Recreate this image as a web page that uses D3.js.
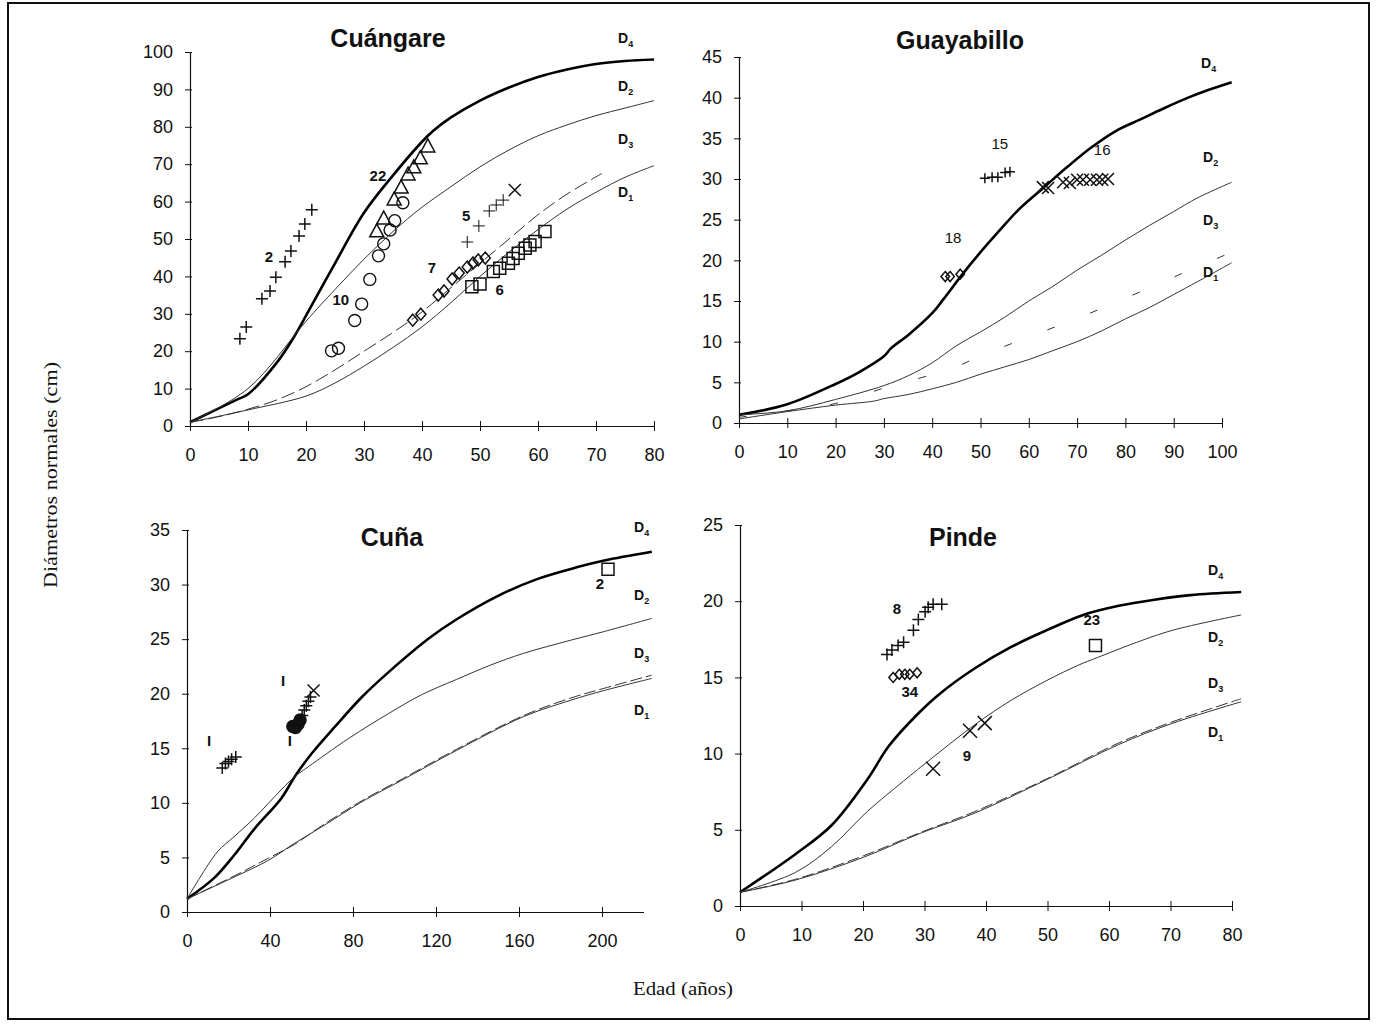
<!DOCTYPE html>
<html>
<head>
<meta charset="utf-8">
<script src="https://cdn.jsdelivr.net/npm/d3@7"></script>
<style>
  body { margin: 0; background: #fff; }
  svg { display: block; }
</style>
</head>
<body>
<svg id="chart" width="1377" height="1024"></svg>
<script>
// ---------- growth curves: [edad (años), diámetro (cm)] ----------
const cuangareD4 = [[0,1],[8,7],[10,8.5],[15,17],[18,24],[20,29.5],[25,43.5],[30,57],[35,67],[40,76],[42,79],[45,82.5],[50,87],[55,90.5],[60,93.3],[65,95.3],[70,96.8],[75,97.6],[80,98]];
const cuangareD2 = [[0,1],[10,10],[20,28],[25,36.5],[30,44.6],[35,52],[40,58.5],[45,64],[50,69.3],[55,73.8],[60,77.6],[65,80.5],[70,83],[75,85],[80,87]];
const cuangareD3 = [[0,1],[5,2.5],[10,4.5],[15,7],[20,10.5],[25,15],[30,20],[35,25],[40,30.5],[45,37],[50,43.5],[55,50],[60,56.5],[65,62],[71,67.5]];
const cuangareD1 = [[0,1],[10,4.3],[20,8],[25,11.5],[30,16],[35,21],[40,26.5],[45,33],[50,40],[55,46.5],[60,52.5],[65,58],[70,62.5],[75,66.5],[80,69.6]];

const guayabilloD4 = [[0,1],[10,2.3],[20,4.8],[25,6.3],[30,8.2],[31.5,9.2],[35,10.8],[40,13.5],[42.3,15.2],[46.4,18.4],[50,21],[54,23.7],[58,26.3],[63,28.9],[68,31.5],[73,33.9],[78,35.9],[83,37.3],[88,38.7],[93,40],[97,40.9],[102,41.9]];
const guayabilloD2 = [[0,1],[10,1.5],[20,2.9],[30,4.6],[35,5.8],[40,7.4],[45,9.5],[50,11.2],[55,13],[60,15],[65,16.8],[70,18.8],[75,20.6],[80,22.5],[85,24.3],[90,26],[95,27.7],[102,29.6]];
const guayabilloD3 = [[0,0.7],[10,1.5],[20,2.4],[30,4.3],[44,6.7],[51,8.5],[61,10.8],[71,13.1],[81,15.6],[91,18.2],[102,21]];
const guayabilloD1 = [[0,0.5],[10,1.4],[20,2.2],[28,2.7],[30,3],[35,3.5],[40,4.2],[45,5],[50,6],[55,6.9],[60,7.8],[65,8.9],[70,10],[75,11.3],[80,12.8],[85,14.2],[90,15.8],[95,17.4],[102,19.7]];

const cunaD4 = [[0,1.2],[13,3.1],[22.7,5.2],[32.4,7.6],[45.4,10.4],[51.9,12.4],[60,14.5],[71.4,17],[84.3,19.7],[97.3,22],[116.8,25.1],[129.8,26.8],[149.2,28.9],[168.7,30.5],[188.2,31.6],[201.1,32.2],[224,33]];
const cunaD2 = [[0,1.2],[14.6,5.5],[22.7,6.9],[32.4,8.6],[45.4,11.2],[51.9,12.4],[58.4,13.3],[77.9,15.9],[97.3,18.2],[113,19.9],[129.8,21.3],[146,22.6],[162.2,23.7],[184.9,24.9],[201.1,25.7],[224,26.9]];
const cunaD3 = [[0,1.2],[22.7,3.3],[38.9,4.9],[51.9,6.2],[64.9,7.9],[84.3,10.2],[103.8,12.2],[129.8,14.9],[162.2,18],[184.9,19.6],[201.1,20.5],[224,21.7]];
const cunaD1 = [[0,1.2],[22.7,3.2],[38.9,4.7],[51.9,6.3],[64.9,7.8],[84.3,10.1],[103.8,12.1],[129.8,14.8],[162.2,17.9],[184.9,19.4],[201.1,20.3],[224,21.4]];

const pindeD4 = [[0,0.9],[9,3.4],[14.9,5.3],[20.7,8.3],[24.2,10.5],[28.9,12.6],[32.4,13.9],[38.2,15.6],[44.1,17],[49.9,18.1],[55.8,19.1],[61.6,19.7],[67.4,20.1],[73.3,20.4],[81.5,20.6]];
const pindeD2 = [[0,0.9],[9,2.2],[14.9,3.9],[20.7,6.2],[26.6,8.2],[31.2,9.7],[38.2,11.9],[44.1,13.5],[49.9,14.8],[55,15.8],[58.1,16.3],[64.5,17.3],[70.4,18.1],[81.5,19.1]];
const pindeD3 = [[0,0.9],[9,1.75],[20.1,3.3],[29.5,4.85],[38.2,6.2],[49.9,8.35],[61.6,10.7],[70.4,12.1],[81.5,13.6]];
const pindeD1 = [[0,0.9],[9,1.7],[20.1,3.2],[29.5,4.8],[38.2,6.1],[49.9,8.3],[61.6,10.6],[70.4,12],[81.5,13.4]];

// ---------- measured trees: [edad, diámetro] ----------
const cuangareTree2  = [[8.6,23.3],[9.7,26.5],[12.4,34],[13.8,36.1],[14.8,39.8],[16.4,43.9],[17.4,46.8],[18.8,50.8],[19.8,54],[21,57.8]];
const cuangareTree10 = [[24.4,20.1],[25.6,20.8],[28.4,28.2],[29.6,32.6],[31,39.2],[32.5,45.5],[33.4,48.7],[34.5,52.4],[35.3,54.9],[36.7,59.7]];
const cuangareTree22 = [[32.2,51.9],[33.4,55.3],[35.2,60.4],[36.4,63.6],[37.6,67.1],[38.6,69],[39.7,71.4],[41,74.6]];
const cuangareTree5  = [[47.8,49.2],[49.8,53.5],[51.6,57.5],[52.8,59.1],[54,60.4]];
const cuangareTree5b = [[56,63.1]];
const cuangareTree7  = [[38.4,28.3],[39.8,29.9],[42.8,35],[43.8,36.1],[45.2,39.3],[46.4,40.9],[47.8,42.5],[48.8,43.6],[49.7,44.4],[50.9,44.9]];
const cuangareTree6  = [[48.6,37.2],[50,38],[52.3,41.3],[53.4,42.2],[54.9,43.5],[55.7,44.8],[56.6,46.2],[57.8,47.5],[58.6,48.4],[59.5,49.3],[61.2,52]];

const guayabilloTree15 = [[50.9,30.1],[52.4,30.2],[53.6,30.2],[55.1,30.8],[56.1,30.9]];
const guayabilloTree16 = [[62.9,29],[64,28.9],[67.1,29.6],[68.5,29.5],[70,29.9],[71.2,29.9],[72.7,29.9],[74.1,29.9],[75.2,29.9],[76.4,30]];
const guayabilloTree18 = [[42.7,18],[43.7,18],[45.8,18.3]];

const cunaTree1a = [[17,13.2],[18.5,13.6],[20,13.8],[21.5,14],[23.5,14.2]];
const cunaTree1b = [[51,17],[52.3,16.9],[53.5,17.2],[54.5,17.6]];
const cunaTree1c = [[55.5,18],[56.5,18.5],[57.5,18.9],[58.5,19.3],[59.5,19.7]];
const cunaTree1d = [[61,20.3]];
const cunaTree2  = [[202.9,31.4]];

const pindeTree8  = [[23.9,16.5],[24.7,16.8],[25.7,17.1],[26.6,17.3],[28.2,18.1],[29,18.8],[30.1,19.3],[30.6,19.6],[31.4,19.8],[32.8,19.8]];
const pindeTree34 = [[24.9,15],[25.9,15.2],[26.8,15.2],[27.6,15.2],[28.8,15.3]];
const pindeTree9  = [[31.4,9],[37.4,11.5],[39.8,12]];
const pindeTree23 = [[57.8,17.1]];

// ---------- tick labels ----------
const cuangareAgeTicks = [0,10,20,30,40,50,60,70,80];
const cuangareDiamTicks = [0,10,20,30,40,50,60,70,80,90,100];
const guayabilloAgeTicks = [0,10,20,30,40,50,60,70,80,90,100];
const guayabilloDiamTicks = [0,5,10,15,20,25,30,35,40,45];
const cunaAgeTicks = [0,40,80,120,160,200];
const cunaDiamTicks = [0,5,10,15,20,25,30,35];
const pindeAgeTicks = [0,10,20,30,40,50,60,70,80];
const pindeDiamTicks = [0,5,10,15,20,25];

// ---------- panel layout ----------
const panels = [
  {
    title: "Cuángare", titlePos: [388, 47],
    xDomain: [0, 80], xRange: [190, 654], xTicks: cuangareAgeTicks,
    yDomain: [0, 100], yRange: [426, 52], yTicks: cuangareDiamTicks,
    curves: [["D4", cuangareD4], ["D2", cuangareD2], ["D3", cuangareD3], ["D1", cuangareD1]],
    dash: "14,5",
    trees: [
      { data: cuangareTree2, mark: "plus", size: 6 },
      { data: cuangareTree10, mark: "circle", size: 6 },
      { data: cuangareTree22, mark: "triangle", size: 7 },
      { data: cuangareTree5, mark: "plus", size: 6, width: 1 },
      { data: cuangareTree5b, mark: "cross", size: 6 },
      { data: cuangareTree7, mark: "diamond", size: 6 },
      { data: cuangareTree6, mark: "square", size: 6 }
    ],
    notes: [["2",13.6,45],["10",26,33.5],["22",32.4,66.5],["5",47.6,56],["7",41.7,42],["6",53.4,36.2]],
    noteWeight: "bold",
    dLabels: [["4",618,43],["2",618,91],["3",618,144],["1",618,197]]
  },
  {
    title: "Guayabillo", titlePos: [960, 49],
    xDomain: [0, 100], xRange: [739, 1222], xTicks: guayabilloAgeTicks,
    yDomain: [0, 45], yRange: [423, 57], yTicks: guayabilloDiamTicks,
    curves: [["D4", guayabilloD4], ["D2", guayabilloD2], ["D3", guayabilloD3], ["D1", guayabilloD1]],
    dash: "8,38",
    trees: [
      { data: guayabilloTree15, mark: "plus", size: 5 },
      { data: guayabilloTree16, mark: "cross", size: 6 },
      { data: guayabilloTree18, mark: "diamond", size: 5 }
    ],
    notes: [["15",54,34.2],["16",75.2,33.4],["18",44.3,22.6]],
    noteWeight: "normal",
    dLabels: [["4",1201,68],["2",1203,162],["3",1203,225],["1",1203,277]]
  },
  {
    title: "Cuña", titlePos: [392, 546],
    xDomain: [0, 220], xRange: [187, 643.5], xTicks: cunaAgeTicks,
    yDomain: [0, 35], yRange: [912, 530], yTicks: cunaDiamTicks,
    curves: [["D4", cunaD4], ["D2", cunaD2], ["D1", cunaD1], ["D3", cunaD3]],
    dash: "12,4",
    trees: [
      { data: cunaTree1a, mark: "plus", size: 6 },
      { data: cunaTree1b, mark: "dot", size: 6 },
      { data: cunaTree1c, mark: "plus", size: 6 },
      { data: cunaTree1d, mark: "cross", size: 6 },
      { data: cunaTree2, mark: "square", size: 6 }
    ],
    notes: [["I",10.6,15.6],["I",46.3,21.1],["I",49.6,15.6],["2",199,30]],
    noteWeight: "bold",
    dLabels: [["4",634,532],["2",634,600],["3",634,658],["1",634,715]]
  },
  {
    title: "Pinde", titlePos: [963, 546],
    xDomain: [0, 80], xRange: [740, 1232], xTicks: pindeAgeTicks,
    yDomain: [0, 25], yRange: [906, 525], yTicks: pindeDiamTicks,
    curves: [["D4", pindeD4], ["D2", pindeD2], ["D1", pindeD1], ["D3", pindeD3]],
    dash: "12,4",
    trees: [
      { data: pindeTree8, mark: "plus", size: 6 },
      { data: pindeTree34, mark: "diamond", size: 5 },
      { data: pindeTree9, mark: "cross", size: 7 },
      { data: pindeTree23, mark: "square", size: 6 }
    ],
    notes: [["8",25.5,19.4],["34",27.6,14],["9",36.9,9.8],["23",57.2,18.7]],
    noteWeight: "bold",
    dLabels: [["4",1208,575],["2",1208,642],["3",1208,688],["1",1208,737]]
  }
];

const svg = d3.select("#chart");
const INK = "#111";

// outer frame
svg.append("rect")
  .attr("x", 8).attr("y", 3).attr("width", 1361).attr("height", 1016)
  .attr("fill", "none").attr("stroke", INK).attr("stroke-width", 2);

const markPath = {
  plus: s => `M${-s},0H${s}M0,${-s}V${s}`,
  cross: s => `M${-s},${-s}L${s},${s}M${-s},${s}L${s},${-s}`,
  triangle: s => `M0,${-s * 1.15}L${s},${s * 0.7}L${-s},${s * 0.7}Z`,
  diamond: s => `M0,${-s}L${s * 0.85},0L0,${s}L${-s * 0.85},0Z`,
  square: s => `M${-s},${-s}H${s}V${s}H${-s}Z`
};

panels.forEach(p => {
  const g = svg.append("g");
  const x = d3.scaleLinear().domain(p.xDomain).range(p.xRange);
  const y = d3.scaleLinear().domain(p.yDomain).range(p.yRange);
  const y0 = y(0), x0 = x(0);

  // x axis
  const xAxis = g.append("g")
    .attr("transform", `translate(0,${y0})`)
    .call(d3.axisBottom(x).tickValues(p.xTicks).tickSize(5).tickSizeOuter(0).tickPadding(17));
  xAxis.select(".domain").attr("stroke", INK).attr("stroke-width", 1.2);
  xAxis.selectAll(".tick line").attr("y1", -5).attr("stroke", INK);
  xAxis.selectAll(".tick text")
    .attr("font-family", "'Liberation Sans', Arial, sans-serif")
    .attr("font-size", 18).attr("fill", INK);

  // y axis
  const yAxis = g.append("g")
    .attr("transform", `translate(${x0},0)`)
    .call(d3.axisLeft(y).tickValues(p.yTicks).tickSize(5).tickSizeOuter(0).tickPadding(12));
  yAxis.select(".domain").attr("stroke", INK).attr("stroke-width", 1.2);
  yAxis.selectAll(".tick line").attr("x1", 2).attr("stroke", INK);
  yAxis.selectAll(".tick text")
    .attr("font-family", "'Liberation Sans', Arial, sans-serif")
    .attr("font-size", 18).attr("fill", INK);

  // title
  g.append("text")
    .attr("x", p.titlePos[0]).attr("y", p.titlePos[1])
    .attr("text-anchor", "middle")
    .attr("font-family", "'Liberation Sans', Arial, sans-serif")
    .attr("font-weight", "bold").attr("font-size", 25)
    .attr("fill", INK)
    .text(p.title);

  // curves
  const line = d3.line().x(d => x(d[0])).y(d => y(d[1])).curve(d3.curveCatmullRom.alpha(0.5));
  p.curves.forEach(([name, pts]) => {
    const path = g.append("path")
      .datum(pts)
      .attr("d", line)
      .attr("fill", "none")
      .attr("stroke", name === "D4" ? "#000" : "#333")
      .attr("stroke-width", name === "D4" ? 2.6 : 1);
    if (name === "D3") path.attr("stroke-dasharray", p.dash);
  });

  // measured trees
  p.trees.forEach(t => {
    const sel = g.append("g").selectAll("g").data(t.data).join("g")
      .attr("transform", d => `translate(${x(d[0])},${y(d[1])})`);
    if (t.mark === "circle" || t.mark === "dot") {
      sel.append("circle").attr("r", t.size)
        .attr("fill", t.mark === "dot" ? INK : "none")
        .attr("stroke", INK).attr("stroke-width", 1.4);
    } else {
      sel.append("path").attr("d", markPath[t.mark](t.size))
        .attr("fill", "none").attr("stroke", INK)
        .attr("stroke-width", t.width || 1.5);
    }
  });

  // tree numbers
  p.notes.forEach(([txt, nx, ny]) => {
    g.append("text")
      .attr("x", x(nx)).attr("y", y(ny))
      .attr("text-anchor", "middle").attr("dominant-baseline", "middle")
      .attr("font-family", "'Liberation Sans', Arial, sans-serif")
      .attr("font-weight", p.noteWeight).attr("font-size", 15)
      .attr("fill", INK)
      .text(txt);
  });

  // curve names
  p.dLabels.forEach(([sub, lx, ly]) => {
    const t = g.append("text")
      .attr("x", lx).attr("y", ly)
      .attr("font-family", "'Liberation Sans', Arial, sans-serif")
      .attr("font-weight", "bold").attr("font-size", 14)
      .attr("fill", INK);
    t.append("tspan").text("D");
    t.append("tspan").attr("dy", 4).attr("font-size", 9).text(sub);
  });
});

// shared axis titles
svg.append("text")
  .attr("transform", "translate(57,475) rotate(-90)")
  .attr("text-anchor", "middle")
  .attr("font-family", "'Liberation Serif', 'Times New Roman', serif")
  .attr("font-size", 19).attr("fill", INK)
  .attr("textLength", 226).attr("lengthAdjust", "spacingAndGlyphs")
  .text("Diámetros normales (cm)");

svg.append("text")
  .attr("x", 683).attr("y", 995)
  .attr("text-anchor", "middle")
  .attr("font-family", "'Liberation Serif', 'Times New Roman', serif")
  .attr("font-size", 19).attr("fill", INK)
  .attr("textLength", 100).attr("lengthAdjust", "spacingAndGlyphs")
  .text("Edad (años)");
</script>
</body>
</html>
